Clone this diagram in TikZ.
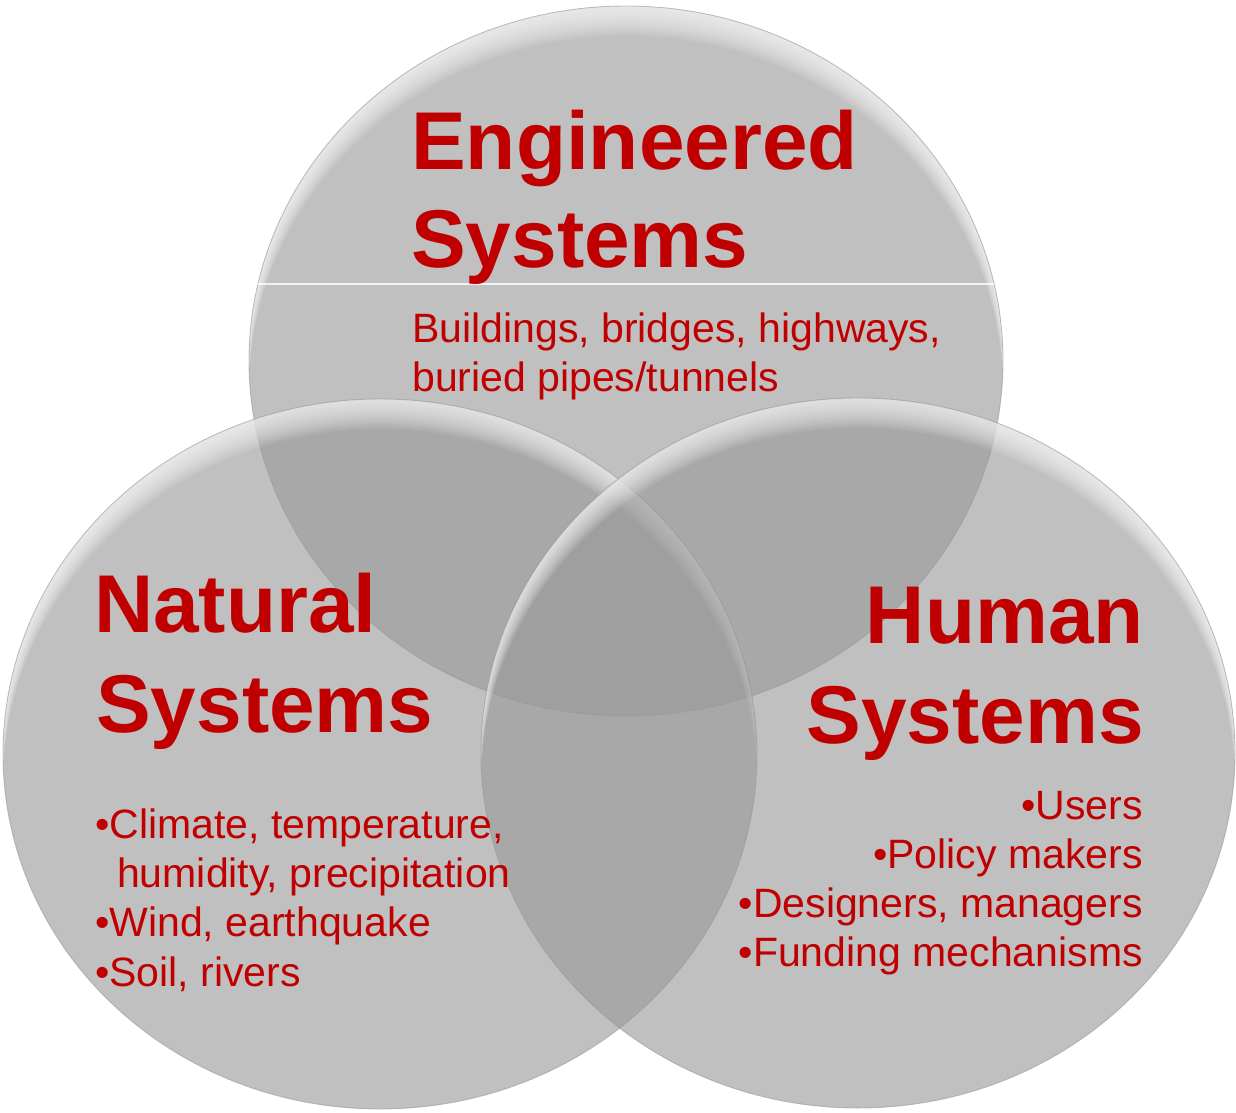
\documentclass[tikz,border=0pt]{standalone}
\usepackage{fontspec}
\setmainfont{Liberation Sans}
\usetikzlibrary{calc}
\definecolor{titlered}{HTML}{C00000}
\tikzset{
  disk/.style={fill=black!40, fill opacity=0.62},
  rim/.style={draw=black!45, line width=0.9pt, draw opacity=0.5},
  head/.style={text=titlered, font=\fontsize{82}{98}\selectfont\bfseries, inner sep=0pt},
  item/.style={text=titlered, font=\fontsize{41}{49}\selectfont, inner sep=0pt},
  oval/.style={x radius=377pt, y radius=355pt},
}
% one translucent disc with a soft light bevel along its upper rim
\newcommand\bubble[1]{%
  \fill[disk] (#1) ellipse [oval];
  \begin{scope}
    \clip (#1) ellipse [oval];
    \foreach \sh in {2,4,...,30}{
      \fill[white, fill opacity=0.075, even odd rule]
        (#1) ellipse [oval] ($(#1)+(0,\sh)$) ellipse [oval];
    }
  \end{scope}
  \draw[rim] (#1) ellipse [oval];
}
\begin{document}
\begin{tikzpicture}[x=1pt, y=-1pt]
  \useasboundingbox (0,0) rectangle (1236,1112);

  \coordinate (cEng) at (626,361);
  \coordinate (cNat) at (380,754);
  \coordinate (cHum) at (858,753);

  \bubble{cEng}
  % thin light seam across the upper disc
  \begin{scope}
    \clip (cEng) ellipse [oval];
    \draw[white, line width=1.4pt, opacity=0.8] (240,284) -- (1010,284);
  \end{scope}
  \bubble{cNat}
  \bubble{cHum}

  % Engineered systems
  \node[head, anchor=base west] (engA) at (411,169) {Engineered};
  \node[head, anchor=base west] (engB) at (411,267) {Systems};
  \node[item, anchor=base west] (engC) at (412,342) {Buildings, bridges, highways,};
  \node[item, anchor=base west] (engD) at (412,391) {buried pipes/tunnels};

  % Natural systems
  \node[head, anchor=base west] (natA) at (94,632) {Natural};
  \node[head, anchor=base west] (natB) at (96,732) {Systems};
  \node[item, anchor=base west] (natC) at (95,838) {•Climate, temperature,};
  \node[item, anchor=base west] (natD) at (117,887) {humidity, precipitation};
  \node[item, anchor=base west] (natE) at (95,936) {•Wind, earthquake};
  \node[item, anchor=base west] (natF) at (95,986) {•Soil, rivers};

  % Human systems
  \node[head, anchor=base east] (humA) at (1144,643) {Human};
  \node[head, anchor=base east] (humB) at (1144,743) {Systems};
  \node[item, anchor=base east] (humC) at (1143,819) {•Users};
  \node[item, anchor=base east] (humD) at (1143,868) {•Policy makers};
  \node[item, anchor=base east] (humE) at (1143,917) {•Designers, managers};
  \node[item, anchor=base east] (humF) at (1143,966) {•Funding mechanisms};
\end{tikzpicture}
\end{document}
